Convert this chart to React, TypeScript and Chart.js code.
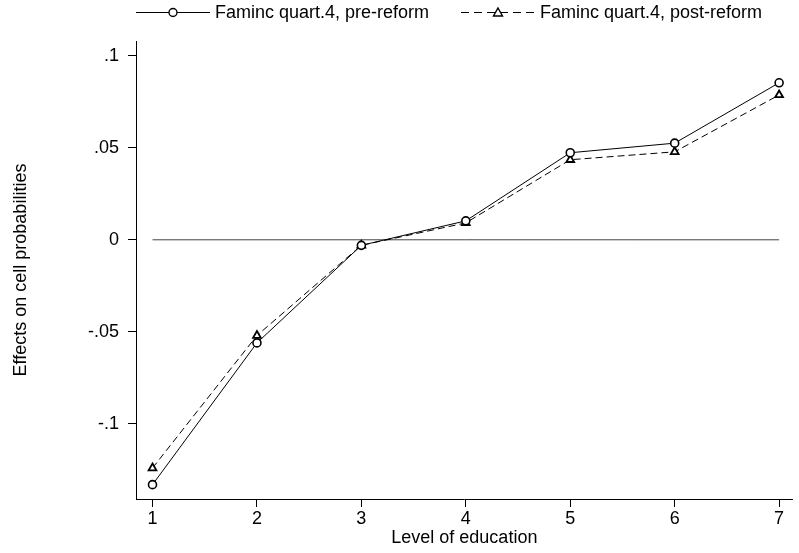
import React, { useEffect, useRef } from 'react';
import { Chart, registerables } from 'chart.js';

Chart.register(...registerables);

const educationLevels = [1, 2, 3, 4, 5, 6, 7];
const preReform = [-0.133, -0.056, -0.003, 0.0103, 0.0473, 0.0525, 0.0853];
const postReform = [-0.124, -0.052, -0.003, 0.0092, 0.0435, 0.0478, 0.0787];
const zeroLine = [0, 0];
const zeroLineX = [1, 7];
const yTickValues = [-0.1, -0.05, 0, 0.05, 0.1];
const yTickLabels = ['-.1', '-.05', '0', '.05', '.1'];
const xTickValues = [1, 2, 3, 4, 5, 6, 7];
const legendLabels = ['Faminc quart.4, pre-reform', 'Faminc quart.4, post-reform'];
const xTitle = 'Level of education';
const yTitle = 'Effects on cell probabilities';

const FONT = "'Liberation Sans', Arial, sans-serif";
const FS = 18;

const legendPlugin = {
  id: 'stataLegend',
  afterDraw(chart: any) {
    const ctx = chart.ctx as CanvasRenderingContext2D;
    const y = 12;
    const starts = [136, 461];
    const lineLen = 74;
    ctx.save();
    ctx.font = `${FS}px ${FONT}`;
    ctx.textBaseline = 'middle';
    legendLabels.forEach((label, i) => {
      const x0 = starts[i];
      ctx.strokeStyle = '#000';
      ctx.lineWidth = 1;
      ctx.setLineDash(i === 0 ? [] : [8, 5]);
      ctx.beginPath();
      ctx.moveTo(x0, y + 0.5);
      ctx.lineTo(x0 + lineLen, y + 0.5);
      ctx.stroke();
      ctx.setLineDash([]);
      const cx = x0 + lineLen / 2;
      ctx.fillStyle = '#fff';
      ctx.lineWidth = 1.4;
      ctx.beginPath();
      if (i === 0) {
        ctx.arc(cx, y + 0.5, 4, 0, Math.PI * 2);
      } else {
        ctx.moveTo(cx, y - 4);
        ctx.lineTo(cx + 4.5, y + 4);
        ctx.lineTo(cx - 4.5, y + 4);
        ctx.closePath();
      }
      ctx.fill();
      ctx.stroke();
      ctx.fillStyle = '#000';
      ctx.fillText(label, x0 + lineLen + 5, y + 1);
    });
    ctx.restore();
  },
};

export default function App() {
  const canvasRef = useRef<HTMLCanvasElement | null>(null);

  useEffect(() => {
    if (!canvasRef.current) return;
    const chart = new Chart(canvasRef.current, {
      type: 'line',
      data: {
        datasets: [
          {
            label: legendLabels[0],
            data: educationLevels.map((x, i) => ({ x, y: preReform[i] })),
            borderColor: '#000',
            borderWidth: 1,
            pointStyle: 'circle',
            pointRadius: 4,
            pointBorderWidth: 1.6,
            pointBackgroundColor: '#fff',
            pointBorderColor: '#000',
            order: 1,
          },
          {
            label: legendLabels[1],
            data: educationLevels.map((x, i) => ({ x, y: postReform[i] })),
            borderColor: '#000',
            borderWidth: 1,
            borderDash: [7, 4],
            pointStyle: 'triangle',
            pointRadius: 4.5,
            pointBorderWidth: 1.8,
            pointBackgroundColor: '#fff',
            pointBorderColor: '#000',
            order: 2,
          },
          {
            label: 'zero',
            data: zeroLineX.map((x, i) => ({ x, y: zeroLine[i] })),
            borderColor: '#444',
            borderWidth: 1,
            pointRadius: 0,
            order: 3,
          },
        ],
      },
      options: {
        responsive: false,
        animation: false,
        layout: { padding: { top: 41, left: 0, right: 0, bottom: 0 } },
        plugins: {
          legend: { display: false },
          tooltip: { enabled: false },
        },
        scales: {
          x: {
            type: 'linear',
            min: 0.842,
            max: 7.13,
            afterBuildTicks: (scale: any) => {
              scale.ticks = xTickValues.map((v) => ({ value: v }));
            },
            afterFit: (scale: any) => {
              scale.height = 54;
            },
            grid: {
              display: true,
              drawOnChartArea: false,
              drawTicks: true,
              tickLength: 8,
              color: '#000',
            },
            border: { display: true, color: '#000', width: 1 },
            ticks: {
              color: '#000',
              font: { family: FONT, size: FS },
              padding: 1,
              maxRotation: 0,
              callback: (v: any) => String(v),
            },
            title: {
              display: true,
              text: xTitle,
              color: '#000',
              font: { family: FONT, size: FS },
              padding: { top: 0, bottom: 4 },
            },
          },
          y: {
            type: 'linear',
            min: -0.1408,
            max: 0.108,
            afterBuildTicks: (scale: any) => {
              scale.ticks = yTickValues.map((v) => ({ value: v }));
            },
            afterFit: (scale: any) => {
              scale.width = 136;
            },
            grid: {
              display: true,
              drawOnChartArea: false,
              drawTicks: true,
              tickLength: 8,
              color: '#000',
            },
            border: { display: true, color: '#000', width: 1 },
            ticks: {
              color: '#000',
              font: { family: FONT, size: FS },
              padding: 9,
              callback: (v: any) => {
                const idx = yTickValues.findIndex((t) => Math.abs(t - Number(v)) < 1e-9);
                return idx >= 0 ? yTickLabels[idx] : '';
              },
            },
            title: {
              display: true,
              text: yTitle,
              color: '#000',
              font: { family: FONT, size: FS },
              padding: { top: 10, bottom: 0 },
            },
          },
        },
      },
      plugins: [legendPlugin],
    });
    return () => chart.destroy();
  }, []);

  return (
    <div style={{ position: 'fixed', left: 0, top: 0, width: 799, height: 553, background: '#fff' }}>
      <canvas ref={canvasRef} width={799} height={553} style={{ width: 799, height: 553 }} />
    </div>
  );
}
